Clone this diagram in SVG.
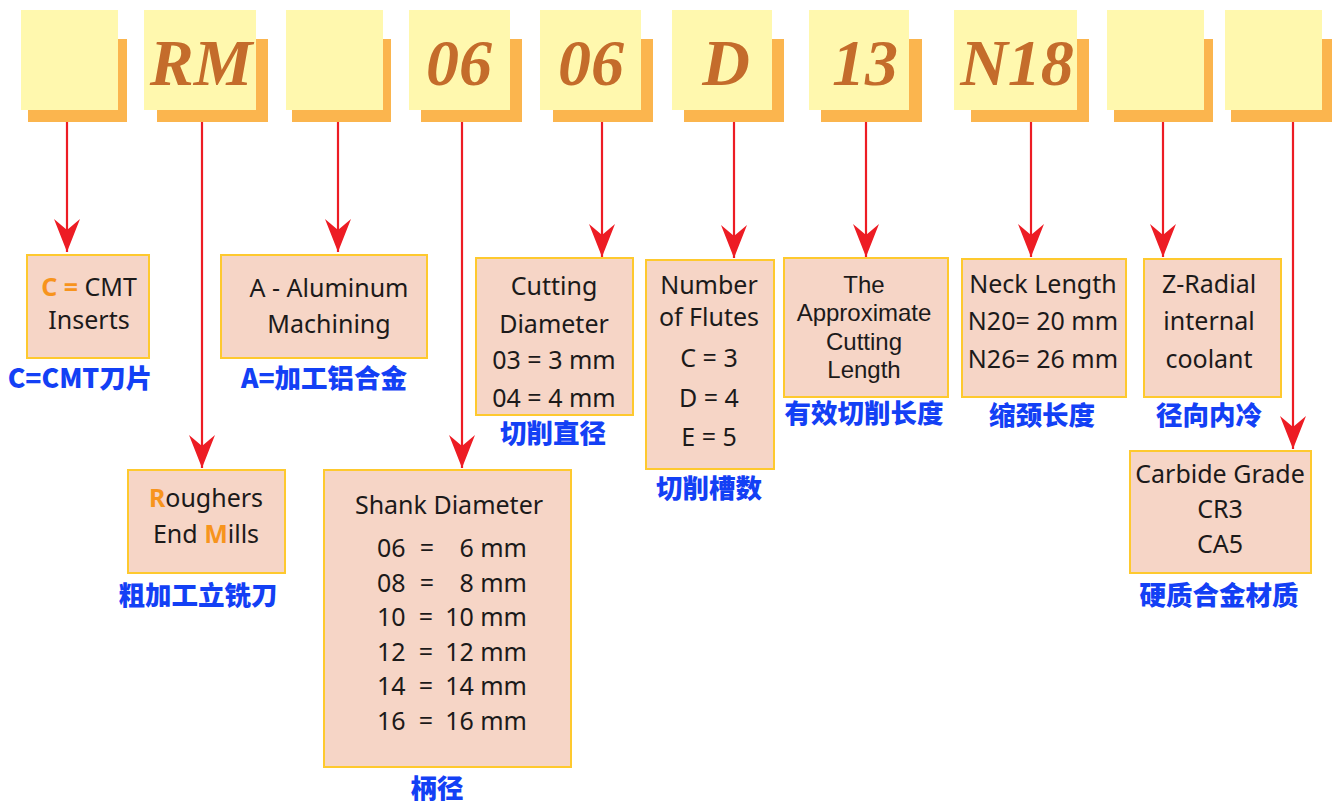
<svg xmlns="http://www.w3.org/2000/svg" width="1332" height="804" viewBox="0 0 1332 804">
<defs>
<style>
.sh{fill:#fbb54e}
.fr{fill:#fff8ae}
.code{font-family:"Liberation Serif",serif;font-weight:bold;font-style:italic;font-size:66px;fill:#c46c2b;text-anchor:middle}
.box{fill:#f6d5c6;stroke:#fec92e;stroke-width:2}
.t{font-family:"Noto Sans","Open Sans",sans-serif;font-size:25px;fill:#1c1a1a;text-anchor:middle}
.ts{text-anchor:start}
.te{text-anchor:end}
.ap{font-family:"Liberation Sans",Arial,sans-serif;font-size:24px}
.o{fill:#f7941d;font-weight:bold}
.cn{font-family:"Noto Sans CJK SC","Noto Sans",sans-serif;font-weight:900;font-size:26.5px;fill:#1340f5;text-anchor:middle}
.ln{stroke:#ed1c24;stroke-width:2.2;fill:none}
</style>
<marker id="ah" viewBox="0 0 33 26" markerWidth="33" markerHeight="26" refX="33" refY="13" orient="auto" markerUnits="userSpaceOnUse">
<path d="M0,0 L33,13 L0,26 L11,13 Z" fill="#ed1c24"/>
</marker>
</defs>
<rect width="1332" height="804" fill="#ffffff"/>

<g id="connectors">
<line class="ln" x1="67" y1="122" x2="67" y2="252" marker-end="url(#ah)"/>
<line class="ln" x1="202" y1="122" x2="202" y2="468" marker-end="url(#ah)"/>
<line class="ln" x1="338" y1="122" x2="338" y2="252" marker-end="url(#ah)"/>
<line class="ln" x1="462" y1="122" x2="462" y2="468" marker-end="url(#ah)"/>
<line class="ln" x1="602" y1="122" x2="602" y2="257" marker-end="url(#ah)"/>
<line class="ln" x1="734" y1="122" x2="734" y2="258" marker-end="url(#ah)"/>
<line class="ln" x1="866" y1="122" x2="866" y2="257" marker-end="url(#ah)"/>
<line class="ln" x1="1031" y1="122" x2="1031" y2="257" marker-end="url(#ah)"/>
<line class="ln" x1="1163" y1="122" x2="1163" y2="257" marker-end="url(#ah)"/>
<line class="ln" x1="1293" y1="122" x2="1293" y2="449" marker-end="url(#ah)"/>
</g>

<g id="code1"><rect class="sh" x="28" y="39" width="99" height="83"/><rect class="fr" x="21" y="10" width="97" height="100"/></g>
<g id="code2"><rect class="sh" x="157" y="39" width="111" height="83"/><rect class="fr" x="144" y="10" width="112" height="100"/><text class="code" x="201" y="85">RM</text></g>
<g id="code3"><rect class="sh" x="292" y="39" width="99" height="83"/><rect class="fr" x="286" y="10" width="97" height="100"/></g>
<g id="code4"><rect class="sh" x="421" y="39" width="101" height="83"/><rect class="fr" x="409" y="10" width="101" height="100"/><text class="code" x="459" y="85">06</text></g>
<g id="code5"><rect class="sh" x="553" y="39" width="100" height="83"/><rect class="fr" x="540" y="10" width="101" height="100"/><text class="code" x="591" y="85">06</text></g>
<g id="code6"><rect class="sh" x="684" y="39" width="100" height="83"/><rect class="fr" x="672" y="10" width="100" height="100"/><text class="code" x="726" y="85">D</text></g>
<g id="code7"><rect class="sh" x="821" y="39" width="101" height="83"/><rect class="fr" x="809" y="10" width="100" height="100"/><text class="code" x="865" y="85">13</text></g>
<g id="code8"><rect class="sh" x="971" y="39" width="118" height="83"/><rect class="fr" x="954" y="10" width="123" height="100"/><text class="code" x="1017" y="85">N18</text></g>
<g id="code9"><rect class="sh" x="1114" y="39" width="99" height="83"/><rect class="fr" x="1107" y="10" width="97" height="100"/></g>
<g id="code10"><rect class="sh" x="1231" y="39" width="101" height="83"/><rect class="fr" x="1225" y="10" width="97" height="100"/></g>

<g id="cmt">
<rect class="box" x="27" y="255" width="122" height="103"/>
<text class="t" x="89" y="296"><tspan class="o">C =</tspan> CMT</text>
<text class="t" x="89" y="329">Inserts</text>
<text class="cn" x="80" y="388">C=CMT刀片</text>
</g>

<g id="aluminum">
<rect class="box" x="221" y="255" width="206" height="103"/>
<text class="t" x="329" y="297">A - Aluminum</text>
<text class="t" x="329" y="333">Machining</text>
<text class="cn" x="324" y="388">A=加工铝合金</text>
</g>

<g id="roughers">
<rect class="box" x="128" y="470" width="157" height="103"/>
<text class="t" x="206" y="507"><tspan class="o" font-weight="normal">R</tspan>oughers</text>
<text class="t" x="206" y="543">End <tspan class="o" font-weight="normal">M</tspan>ills</text>
<text class="cn" x="198" y="605">粗加工立铣刀</text>
</g>

<g id="shank">
<rect class="box" x="324" y="470" width="247" height="297"/>
<text class="t" x="449" y="514" font-size="24">Shank Diameter</text>
<text class="t ts" x="377" y="557">06</text><text class="t" x="427" y="557">=</text><text class="t te" x="527" y="557">6 mm</text>
<text class="t ts" x="377" y="592">08</text><text class="t" x="427" y="592">=</text><text class="t te" x="527" y="592">8 mm</text>
<text class="t ts" x="377" y="626">10</text><text class="t" x="426" y="626">=</text><text class="t te" x="527" y="626">10 mm</text>
<text class="t ts" x="377" y="661">12</text><text class="t" x="426" y="661">=</text><text class="t te" x="527" y="661">12 mm</text>
<text class="t ts" x="377" y="695">14</text><text class="t" x="426" y="695">=</text><text class="t te" x="527" y="695">14 mm</text>
<text class="t ts" x="377" y="730">16</text><text class="t" x="426" y="730">=</text><text class="t te" x="527" y="730">16 mm</text>
<text class="cn" x="437" y="798">柄径</text>
</g>

<g id="cutting">
<rect class="box" x="476" y="258" width="157" height="157"/>
<text class="t" x="554" y="295">Cutting</text>
<text class="t" x="554" y="333">Diameter</text>
<text class="t" x="554" y="369">03 = 3 mm</text>
<text class="t" x="554" y="407">04 = 4 mm</text>
<text class="cn" x="553" y="443">切削直径</text>
</g>

<g id="flutes">
<rect class="box" x="646" y="260" width="128" height="209"/>
<text class="t" x="709" y="294">Number</text>
<text class="t" x="709" y="326">of Flutes</text>
<text class="t" x="709" y="367">C = 3</text>
<text class="t" x="709" y="407">D = 4</text>
<text class="t" x="709" y="446">E = 5</text>
<text class="cn" x="709" y="498">切削槽数</text>
</g>

<g id="length">
<rect class="box" x="784" y="258" width="164" height="139"/>
<text class="t ap" x="864" y="293">The</text>
<text class="t ap" x="864" y="321">Approximate</text>
<text class="t ap" x="864" y="350">Cutting</text>
<text class="t ap" x="864" y="378">Length</text>
<text class="cn" x="864" y="423">有效切削长度</text>
</g>

<g id="neck">
<rect class="box" x="962" y="259" width="164" height="138"/>
<text class="t" x="1043" y="293">Neck Length</text>
<text class="t" x="1043" y="330">N20= 20 mm</text>
<text class="t" x="1043" y="368">N26= 26 mm</text>
<text class="cn" x="1042" y="425">缩颈长度</text>
</g>

<g id="coolant">
<rect class="box" x="1144" y="259" width="137" height="138"/>
<text class="t" x="1209" y="293">Z-Radial</text>
<text class="t" x="1209" y="330">internal</text>
<text class="t" x="1209" y="368">coolant</text>
<text class="cn" x="1209" y="425">径向内冷</text>
</g>

<g id="grade">
<rect class="box" x="1130" y="451" width="181" height="122"/>
<text class="t" x="1220" y="483">Carbide Grade</text>
<text class="t" x="1220" y="518" font-size="22">CR3</text>
<text class="t" x="1220" y="553" font-size="22">CA5</text>
<text class="cn" x="1219" y="605">硬质合金材质</text>
</g>
</svg>
